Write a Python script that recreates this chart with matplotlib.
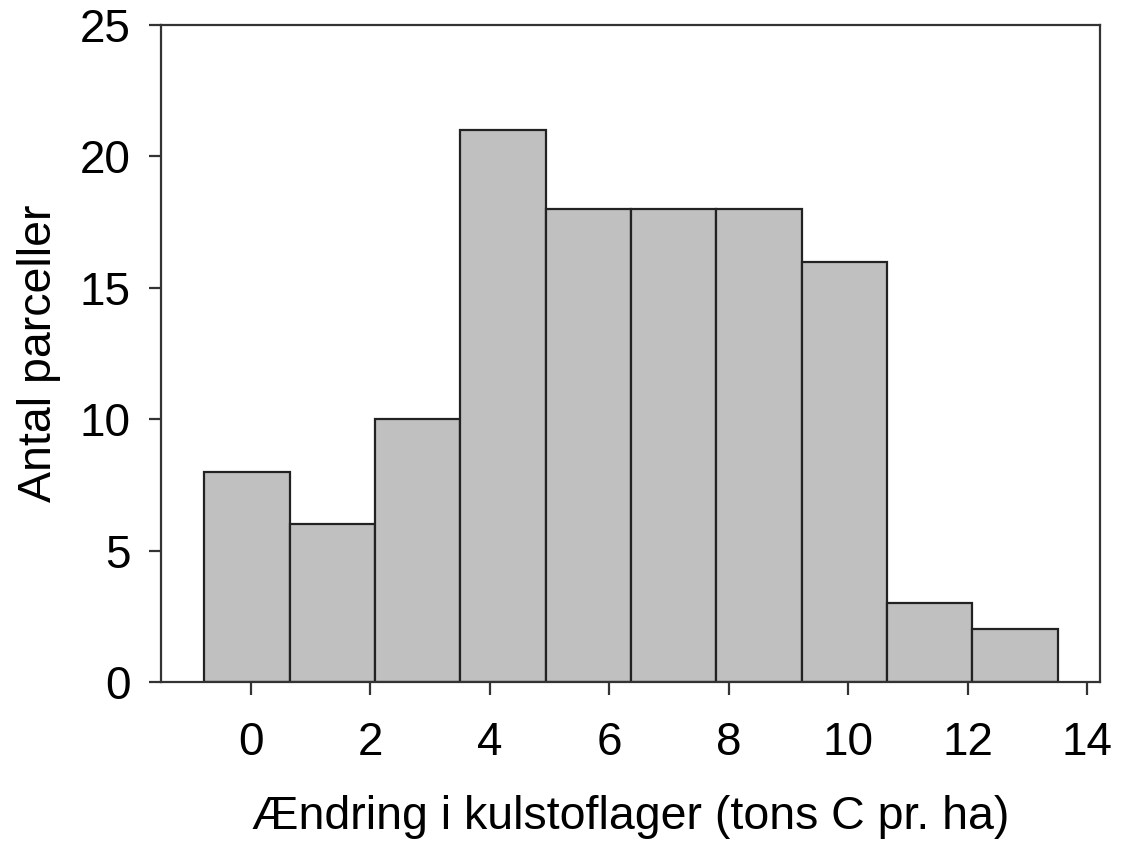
import matplotlib
matplotlib.use("Agg")
import matplotlib.pyplot as plt
import numpy as np

plt.rcParams['font.family'] = ['Liberation Sans', 'DejaVu Sans']

# Histogram of carbon stock change per plot
bin_start = -0.78
bin_width = 1.428
counts = [8, 6, 10, 21, 18, 18, 18, 16, 3, 2]
x_ticks = [0, 2, 4, 6, 8, 10, 12, 14]
y_ticks = [0, 5, 10, 15, 20, 25]

edges = bin_start + bin_width * np.arange(len(counts))

fig = plt.figure(figsize=(11.33, 8.42), dpi=100)
ax = fig.add_axes([0.1421, 0.19, 0.9709 - 0.1421, 0.9703 - 0.19])

ax.bar(edges, counts, width=bin_width, align='edge',
       color='#c0c0c0', edgecolor='#222222', linewidth=1.6)

ax.set_xlim(-1.506, 14.21)
ax.set_ylim(0, 25)
ax.set_xticks(x_ticks)
ax.set_yticks(y_ticks)

for s in ax.spines.values():
    s.set_color('#333333')
    s.set_linewidth(1.6)

ax.tick_params(direction='out', length=9, width=1.6, color='#333333',
               labelsize=33)
ax.tick_params(axis='x', pad=19)
ax.tick_params(axis='y', pad=13)

ax.set_xlabel('Ændring i kulstoflager (tons C pr. ha)', fontsize=33.5, labelpad=22)
ax.set_ylabel('Antal parceller', fontsize=33.5, labelpad=13)

fig.savefig('out.png', dpi=100)
